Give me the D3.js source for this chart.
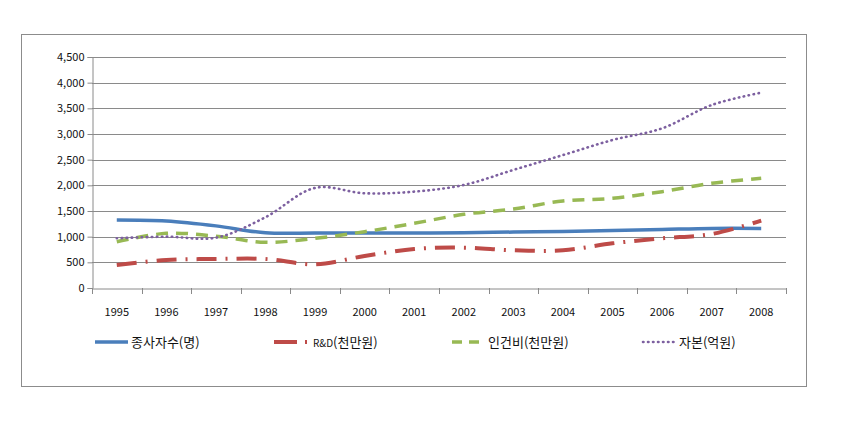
<!DOCTYPE html>
<html><head><meta charset="utf-8">
<script src="https://cdnjs.cloudflare.com/ajax/libs/d3/7.8.5/d3.min.js"></script>
<style>body{margin:0;background:#fff}svg{display:block}text{font-family:"Noto Sans CJK KR","Noto Sans",sans-serif}</style>
</head><body><svg id="c" width="844" height="430"></svg>
<script>
const years = ["1995","1996","1997","1998","1999","2000","2001","2002","2003","2004","2005","2006","2007","2008"];
const employees = [1325,1305,1210,1075,1070,1070,1072,1075,1090,1100,1120,1140,1160,1160];
const rnd = [450,545,565,565,462,623,760,785,734,734,870,968,1052,1312];
const labor = [902,1065,1010,890,968,1097,1260,1435,1540,1695,1747,1877,2040,2137];
const capital = [968,1000,980,1380,1950,1845,1877,2007,2300,2590,2883,3110,3565,3805];
const yTicks = [0,500,1000,1500,2000,2500,3000,3500,4000,4500];
const seriesNames = ["종사자수(명)","R&D(천만원)","인건비(천만원)","자본(억원)"];

const svg = d3.select("#c");
const L = 92, R = 786, T = 57, B = 288;
svg.append("rect").attr("x",21.5).attr("y",34.5).attr("width",785).attr("height",352)
  .attr("fill","#fff").attr("stroke","#8c8c8c").attr("stroke-width",1);

const x = d3.scaleBand().domain(years).range([L,R]);
const y = d3.scaleLinear().domain([0,4500]).range([B,T]);

svg.append("g").selectAll("line").data(yTicks.filter(d=>d>0)).join("line")
  .attr("x1",L).attr("x2",R).attr("y1",d=>Math.round(y(d))+0.5).attr("y2",d=>Math.round(y(d))+0.5)
  .attr("stroke","#8a8a8a").attr("stroke-width",1);

const yAxis = svg.append("g").attr("transform",`translate(${L+0.5},0)`)
  .call(d3.axisLeft(y).tickValues(yTicks).tickFormat(d3.format(",")).tickSize(5).tickPadding(3));
const xAxis = svg.append("g").attr("transform",`translate(0,${Math.round(B)+0.5})`)
  .call(d3.axisBottom(x).tickSize(0).tickPadding(20));
[yAxis,xAxis].forEach(a=>{a.select(".domain").attr("stroke","#8a8a8a");a.selectAll("line").attr("stroke","#8a8a8a");
  a.selectAll("text").attr("font-size",11).attr("fill","#111");});
svg.append("g").selectAll("line").data(years.concat(["end"])).join("line")
  .attr("x1",(d,i)=>Math.round(L+i*x.step())+0.5).attr("x2",(d,i)=>Math.round(L+i*x.step())+0.5)
  .attr("y1",B).attr("y2",B+6).attr("stroke","#8a8a8a");

const styles = [
  {data:employees,color:"#4A7EBB",w:3.5,dash:null,cap:"butt"},
  {data:rnd,color:"#BE4B48",w:4,dash:"20,9,2,9",cap:"butt"},
  {data:labor,color:"#98B954",w:3.5,dash:"12,8",cap:"butt"},
  {data:capital,color:"#7D60A0",w:2.6,dash:"0.5,4.5",cap:"round"}
];
const line = d3.line().x((d,i)=>x(years[i])+x.bandwidth()/2).y(d=>y(d)).curve(d3.curveCatmullRom.alpha(0.5));
styles.forEach(s=>{
  svg.append("path").attr("d",line(s.data)).attr("fill","none").attr("stroke",s.color)
    .attr("stroke-width",s.w).attr("stroke-dasharray",s.dash).attr("stroke-linecap",s.cap);
});

const legX = [95,274,452,643];
const legY = 342;
styles.forEach((s,i)=>{
  const g = svg.append("g");
  let dash = s.dash, len = 33;
  if(i===1) dash = "23,8,2,30";
  if(i===2) dash = "10,7";
  g.append("line").attr("x1",legX[i]).attr("x2",legX[i]+len).attr("y1",legY).attr("y2",legY)
    .attr("stroke",s.color).attr("stroke-width",s.w).attr("stroke-dasharray",dash).attr("stroke-linecap",s.cap);
  const t = g.append("text").attr("x",legX[i]+len+ (i===1?6:3)).attr("y",legY+5).attr("font-size",13).attr("fill","#111");
  if(i===1){
    t.append("tspan").attr("font-size",10).text("R&D");
    t.append("tspan").text("(천만원)");
  } else t.text(seriesNames[i]);
});
</script></body></html>
